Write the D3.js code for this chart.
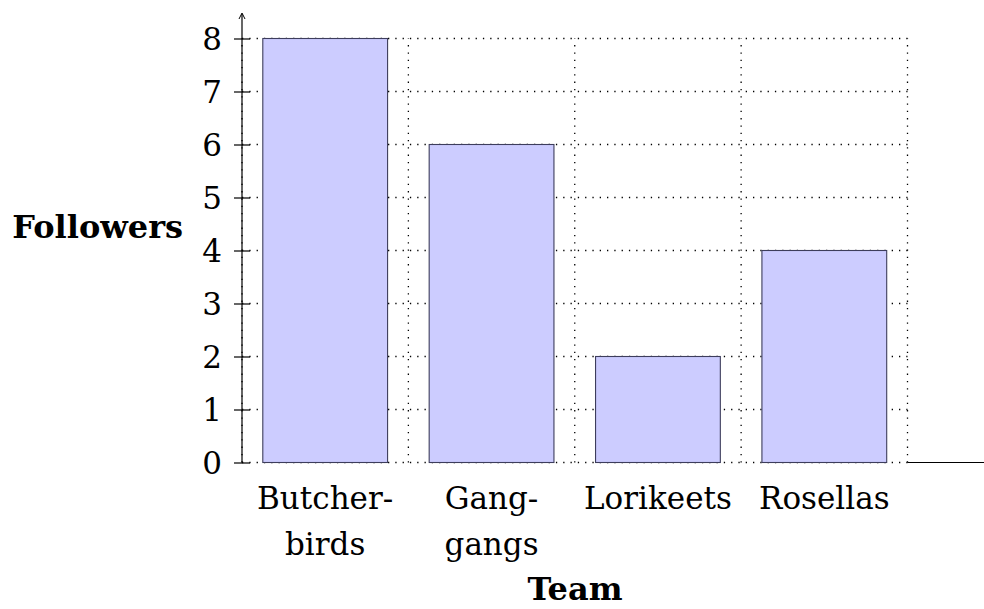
<!DOCTYPE html>
<html><head><meta charset="utf-8">
<script src="https://cdn.jsdelivr.net/npm/d3@7"></script>
<style>body{margin:0;background:#fff}svg{display:block}text{font-family:"DejaVu Serif",serif;fill:#000}</style>
</head><body><svg id="c" width="984" height="609"></svg>
<script>
const categories = [["Butcher-","birds"],["Gang-","gangs"],["Lorikeets"],["Rosellas"]];
const followers = [8, 6, 2, 4];
const yTicks = [0,1,2,3,4,5,6,7,8];
const xLabel = "Team", yLabel = "Followers";

const svg = d3.select("#c");
const x = d3.scaleLinear().domain([-0.5, 3.5]).range([242, 907.5]);
const y = d3.scaleLinear().domain([0, 8]).range([462.5, 38.5]);
const fs = 31;
const FONT = '"DejaVu Serif",serif';
const dot = {w:1.3, dash:"1.3 6"};

// grid
const g = svg.append("g");
yTicks.forEach(t => {
  g.append("line").attr("x1", x(-0.5)).attr("x2", x(3.5)).attr("y1", y(t)).attr("y2", y(t))
   .attr("stroke", "#000").attr("stroke-width", dot.w).attr("stroke-dasharray", dot.dash);
});
[-0.5,0.5,1.5,2.5,3.5].forEach(v => {
  g.append("line").attr("x1", x(v)).attr("x2", x(v)).attr("y1", y(0)).attr("y2", y(8))
   .attr("stroke", "#000").attr("stroke-width", dot.w).attr("stroke-dasharray", dot.dash);
});

// bars
const bw = 0.75;
svg.append("g").selectAll("rect").data(followers).join("rect")
  .attr("x", (d,i) => x(i - bw/2)).attr("width", x(bw) - x(0))
  .attr("y", d => y(d)).attr("height", d => y(0) - y(d))
  .attr("fill", "#ccccff").attr("stroke", "#3d3d5c").attr("stroke-width", 1.1);

// axes
svg.append("line").attr("x1", x(3.5)).attr("x2", 984).attr("y1", y(0)).attr("y2", y(0))
  .attr("stroke", "#000").attr("stroke-width", 1.2);
svg.append("line").attr("x1", x(-0.5)).attr("x2", x(-0.5)).attr("y1", y(0)).attr("y2", 14)
  .attr("stroke", "#000").attr("stroke-width", 1.2);
svg.append("path").attr("d", `M${x(-0.5)-3},19 L${x(-0.5)},13 L${x(-0.5)+3},19`)
  .attr("fill", "none").attr("stroke", "#000").attr("stroke-width", 1);

// y ticks
const yAxis = d3.axisLeft(y).tickValues(yTicks).tickSize(0).tickPadding(0).tickFormat(d3.format("d"));
const ya = svg.append("g").attr("transform", `translate(${x(-0.5)},0)`).call(yAxis)
  .attr("font-family", FONT);
ya.select(".domain").remove();
ya.selectAll(".tick text").attr("x", -20).attr("dy", "0.36em").style("font-size", fs + "px")
  .style("font-family", FONT).attr("fill", "#000");
ya.selectAll(".tick").append("line").attr("x1", -8).attr("x2", 8).attr("stroke", "#000").attr("stroke-width", 1.2);

// x labels
categories.forEach((lines, i) => {
  const t = svg.append("text").attr("x", x(i)).attr("y", 509).attr("text-anchor", "middle")
    .style("font-size", fs + "px").style("font-family", FONT);
  lines.forEach((l, j) => t.append("tspan").attr("x", x(i)).attr("dy", j ? 46 : 0).text(l));
});

svg.append("text").attr("x", 575).attr("y", 600).attr("text-anchor", "middle")
  .style("font-size", "32px").style("font-weight", "bold").style("font-family", FONT).text(xLabel);
svg.append("text").attr("x", 183).attr("y", 238).attr("text-anchor", "end")
  .style("font-size", "32px").style("font-weight", "bold").style("font-family", FONT).text(yLabel);
</script></body></html>
